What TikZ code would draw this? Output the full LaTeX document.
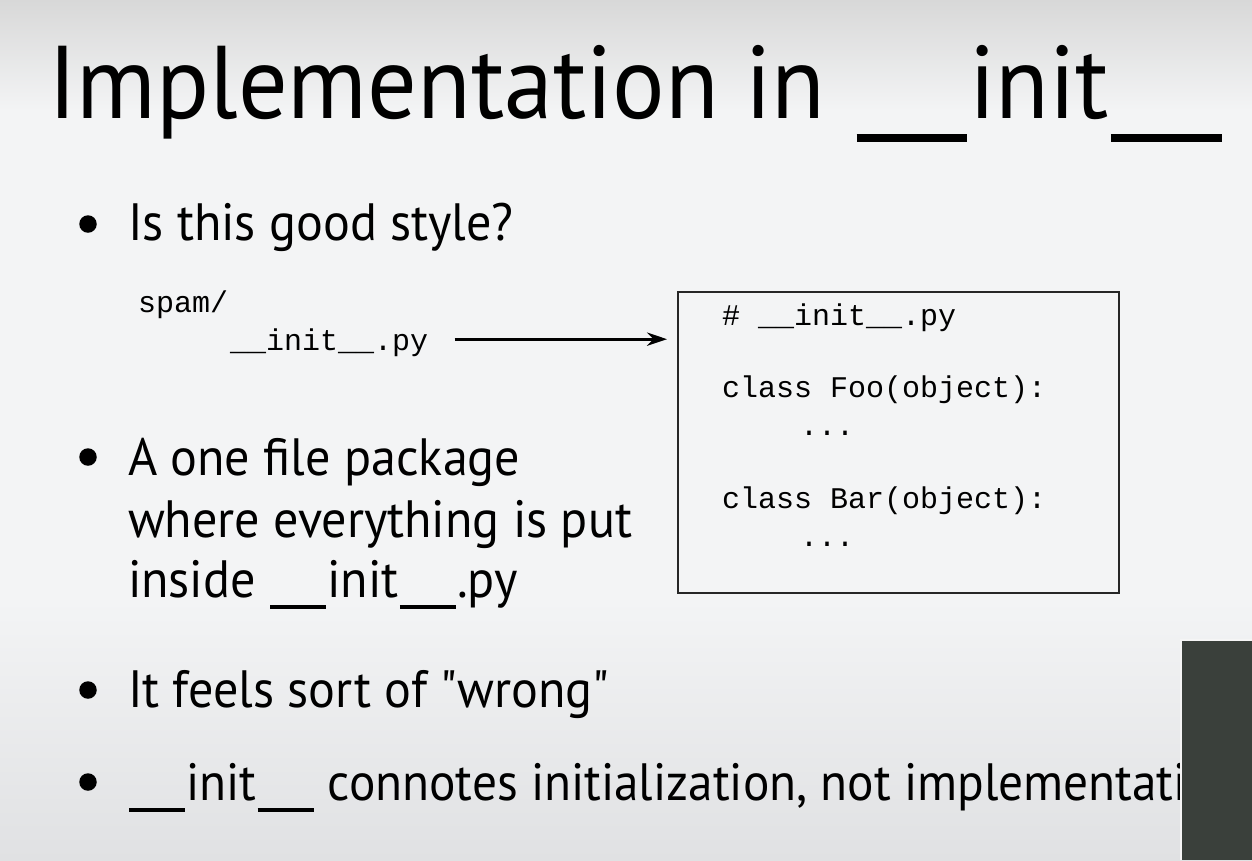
\documentclass[tikz,border=0pt]{standalone}
\usepackage{fontspec}
\setmainfont{PT Sans}[FakeStretch=0.955,Ligatures=TeXOff]
\setmonofont{Liberation Mono}
\newfontfamily\titlefont{PT Sans}[FakeStretch=0.95]
\newfontfamily\narrowfont{PT Sans}[FakeStretch=0.94]
\usetikzlibrary{arrows.meta}
\definecolor{bgtop}{HTML}{D8D8D8}
\definecolor{bgmid}{HTML}{F3F4F5}
\definecolor{bgbot}{HTML}{E0E1E3}
\definecolor{darkpanel}{HTML}{3A403B}
\newcommand{\usc}{\kern0.02em\rule[-0.23em]{1.07em}{0.075em}\kern0.02em}
\begin{document}
\begin{tikzpicture}[x=0.6pt,y=-0.6pt,
  txt/.style={anchor=base west,inner sep=0pt,outer sep=0pt,text=black},
  titletxt/.style={txt,font=\titlefont\fontsize{62}{70}\selectfont},
  bul/.style={txt,font=\fontsize{31.5}{37}\selectfont},
  code/.style={txt,font=\ttfamily\fontsize{18}{20}\selectfont},
  dot/.style={circle,fill=black,inner sep=0pt,minimum size=10.5pt},
  codebox/.style={draw=black!85,line width=1.3pt,anchor=north west,inner sep=0pt,
    minimum width=264.6pt,minimum height=180.6pt},
  conn/.style={line width=1.6pt,-{Stealth[length=12pt,width=8pt]}}]
\useasboundingbox (0,0) rectangle (1252,860);
\fill[bgmid] (0,0) rectangle (1252,860);
\shade[top color=bgtop,bottom color=bgmid] (0,0) rectangle (1252,110);
\shade[top color=bgmid,bottom color=bgbot] (0,600) rectangle (1252,860);
% title
\node[titletxt] (title) at (48,118) {Implementation in \kern0.03em\usc init\usc};
% bullet 1
\node[dot] (d1) at (88,224) {};
\node[bul] (b1) at (128,240) {Is this good style?};
\node[code] (spam) at (138,312) {spam/};
\node[code] (initf) at (230,350) {\_\_init\_\_.py};
% code box
\node[codebox] (box) at (677,291) {};
\node[code] (c1) at (722,325) {\# \_\_init\_\_.py};
\node[code] (c2) at (722,397) {class Foo(object):};
\node[code] (c3) at (800,435) {...};
\node[code] (c4) at (722,508) {class Bar(object):};
\node[code] (c5) at (800,546) {...};
\coordinate (astart) at ([xshift=16pt,yshift=6.5pt]initf.base east);
\draw[conn] (astart) -- ([xshift=-6pt]box.west |- astart);
% bullet 2
\node[dot] (d2) at (88,457) {};
\node[bul] (b2a) at (128,475) {A one file package};
\node[bul] (b2b) at (128,537) {where everything is put};
\node[bul] (b2c) at (128,597) {inside \usc init\usc.py};
% bullet 3
\node[dot] (d3) at (88,690) {};
\node[bul] (b3) at (128,707) {It feels sort of "wrong"};
% bullet 4
\node[dot] (d4) at (88,782) {};
\node[bul,font=\narrowfont\fontsize{31.5}{37}\selectfont] (b4) at (128,800) {\usc init\usc\ connotes initialization, not implementati};
% dark panel
\fill[darkpanel] (1182,641) rectangle (1252,860);
\draw[white!92!gray,line width=1pt] (1181,860) -- (1181,640) -- (1252,640);
\end{tikzpicture}
\end{document}
